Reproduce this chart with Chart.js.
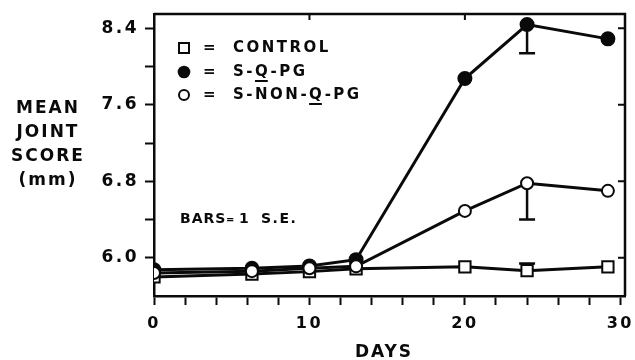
<!DOCTYPE html>
<html>
<head>
<meta charset="utf-8">
<script src="https://cdn.jsdelivr.net/npm/chart.js@4"></script>
<style>
	html, body { margin:0; padding:0; background:#fff; }
	#wrap { width:635px; height:360px; position:relative; }
</style>
</head>
<body>
<div id="wrap"><canvas id="joint_graph" width="635" height="360"></canvas></div>
<script>
// values
const days = [0, 6.3, 10, 13, 20, 24, 29.2]
const control = [5.80, 5.83, 5.855, 5.885, 5.905, 5.865, 5.905]
const sqpg = [5.875, 5.89, 5.915, 5.98, 7.875, 8.44, 8.29]
const snonqpg = [5.84, 5.86, 5.89, 5.91, 6.49, 6.78, 6.70]

// end of the 1 S.E. bar (null = no bar drawn)
const controlSe = [null, null, null, null, null, 5.94, null]
const sqpgSe = [null, null, null, null, null, 8.14, null]
const snonqpgSe = [null, null, null, null, null, 6.40, null]

const xTickValues = [0, 2, 4, 6, 8, 10, 12, 14, 16, 18, 20, 22, 24, 26, 28, 30]
const xTickLabels = ['0', '', '', '', '', '10', '', '', '', '', '20', '', '', '', '', '30']
const yTickValues = [6.0, 6.4, 6.8, 7.2, 7.6, 8.0, 8.4]
const yTickLabels = ['6.0', '', '6.8', '', '7.6', '', '8.4']
const frameTicksX = [10, 20]
const frameTicksY = [6.0, 6.8, 7.6, 8.4]

const legendItems = ['CONTROL', 'S-Q-PG', 'S-NON-Q-PG']
const yTitle = ['MEAN', 'JOINT', 'SCORE', '(mm)']

const INK = '#0a0a0a'
const FONT = 'DejaVu Sans'

const points = arr => arr.map((v, i) => ({ x:days[i], y:v }))


function spaced(ctx, px){
	ctx.letterSpacing = px + 'px'
}

const extras = {
	id:'extras',
	beforeDraw(chart){
		spaced(chart.ctx, 2.5)
	},
	beforeDatasetsDraw(chart){
		const { ctx, scales:{ x, y } } = chart
		ctx.save()
		ctx.strokeStyle = INK
		ctx.lineWidth = 2.5
		const sets = [[control, controlSe], [sqpg, sqpgSe], [snonqpg, snonqpgSe]]
		for(const [vals, se] of sets){
			se.forEach((end, i) => {
				if(end === null) return
				const px = x.getPixelForValue(days[i])
				const py = y.getPixelForValue(vals[i])
				const pe = y.getPixelForValue(end)
				ctx.beginPath()
				ctx.moveTo(px, py)
				ctx.lineTo(px, pe)
				ctx.moveTo(px - 8, pe)
				ctx.lineTo(px + 8, pe)
				ctx.stroke()
			})
		}
		ctx.restore()
	},
	afterDraw(chart){
		const { ctx, chartArea:a, scales:{ x, y } } = chart
		ctx.save()
		ctx.strokeStyle = INK
		ctx.fillStyle = INK
		ctx.lineWidth = 2.5

		// top and right frame with inward ticks
		ctx.beginPath()
		ctx.moveTo(a.left, a.top)
		ctx.lineTo(a.right, a.top)
		ctx.lineTo(a.right, a.bottom)
		ctx.stroke()
		ctx.lineWidth = 2
		ctx.beginPath()
		for(const v of frameTicksX){
			const px = x.getPixelForValue(v)
			ctx.moveTo(px, a.top)
			ctx.lineTo(px, a.top + 6)
		}
		for(const v of frameTicksY){
			const py = y.getPixelForValue(v)
			ctx.moveTo(a.right, py)
			ctx.lineTo(a.right - 7, py)
		}
		ctx.stroke()

		// y title, horizontal
		ctx.textAlign = 'center'
		ctx.textBaseline = 'middle'
		ctx.font = `bold 17px "${FONT}"`
		spaced(ctx, 2)
		const yRows = [109, 133, 157, 181]
		yTitle.forEach((t, i) => ctx.fillText(t, 48, yRows[i]))

		// x title
		ctx.font = `bold 17px "${FONT}"`
		ctx.fillText('DAYS', 384, 353)

		// legend
		const rows = [48, 72, 95]
		const mx = 184
		ctx.lineWidth = 2
		ctx.fillStyle = '#fff'
		ctx.fillRect(mx - 5, rows[0] - 5, 10, 10)
		ctx.strokeRect(mx - 5, rows[0] - 5, 10, 10)
		ctx.fillStyle = INK
		ctx.beginPath()
		ctx.arc(mx, rows[1], 6.3, 0, Math.PI * 2)
		ctx.fill()
		ctx.beginPath()
		ctx.arc(mx, rows[2], 5, 0, Math.PI * 2)
		ctx.stroke()

		ctx.textAlign = 'left'
		ctx.font = `bold 15px "${FONT}"`
		spaced(ctx, 2.5)
		legendItems.forEach((t, i) => {
			ctx.fillText('=', 203, rows[i])
			ctx.fillText(t, 233, rows[i])
			const q = t.indexOf('Q')
			if(q >= 0){
				const x0 = 233 + ctx.measureText(t.slice(0, q)).width
				const w = ctx.measureText('Q').width - 2.5
				ctx.fillRect(x0, rows[i] + 8, w, 2)
			}
		})

		// note
		ctx.font = `bold 14px "${FONT}"`
		spaced(ctx, 1)
		ctx.textBaseline = 'alphabetic'
		ctx.fillText('BARS', 180, 223)
		ctx.font = `bold 10px "${FONT}"`
		ctx.fillText('=', 226, 223)
		ctx.font = `bold 14px "${FONT}"`
		ctx.fillText('1', 239, 223)
		spaced(ctx, 1.5)
		ctx.fillText('S.E.', 261, 223)
		ctx.restore()
	}
}

const dsBase = {
	borderColor:INK,
	borderWidth:3,
	pointBorderColor:INK,
	pointBorderWidth:2,
	pointHoverRadius:6,
	tension:0
}

new Chart(document.getElementById('joint_graph'), {
	type:'line',
	data:{
		datasets:[
			{ ...dsBase, label:'S-NON-Q-PG', data:points(snonqpg), pointStyle:'circle', pointRadius:6, pointBackgroundColor:'#fff' },
			{ ...dsBase, label:'S-Q-PG', data:points(sqpg), pointStyle:'circle', pointRadius:6.5, pointBackgroundColor:INK },
			{ ...dsBase, label:'CONTROL', data:points(control), pointStyle:'rect', pointRadius:8, pointBackgroundColor:'#fff' }
		]
	},
	plugins:[extras],
	options:{
		responsive:false,
		animation:false,
		devicePixelRatio:1,
		layout:{ padding:{ top:14, right:7, left:0, bottom:0 } },
		plugins:{
			legend:{ display:false },
			tooltip:{ enabled:false }
		},
		scales:{
			x:{
				type:'linear',
				min:0,
				max:30.3,
				afterBuildTicks:s => { s.ticks = xTickValues.map(v => ({ value:v })) },
				afterFit:s => {
					s.height = 64
					s.paddingLeft = 0
					s.paddingRight = 0
				},
				ticks:{
					autoSkip:false,
					maxRotation:0,
					padding:9,
					color:INK,
					font:{ family:FONT, size:16, weight:'bold' },
					callback:v => xTickLabels[xTickValues.indexOf(v)]
				},
				grid:{ drawOnChartArea:false, tickLength:9, tickWidth:2, color:INK },
				border:{ width:2.5, color:INK }
			},
			y:{
				min:5.6,
				max:8.55,
				afterBuildTicks:s => { s.ticks = yTickValues.map(v => ({ value:v })) },
				afterFit:s => {
					s.width = 154
					s.paddingTop = 0
					s.paddingBottom = 0
				},
				ticks:{
					autoSkip:false,
					padding:6,
					color:INK,
					font:{ family:FONT, size:17, weight:'bold' },
					callback:v => yTickLabels[yTickValues.indexOf(v)]
				},
				grid:{ drawOnChartArea:false, tickLength:9, tickWidth:2, color:INK },
				border:{ width:2.5, color:INK }
			}
		}
	}
})
</script>
</body>
</html>
